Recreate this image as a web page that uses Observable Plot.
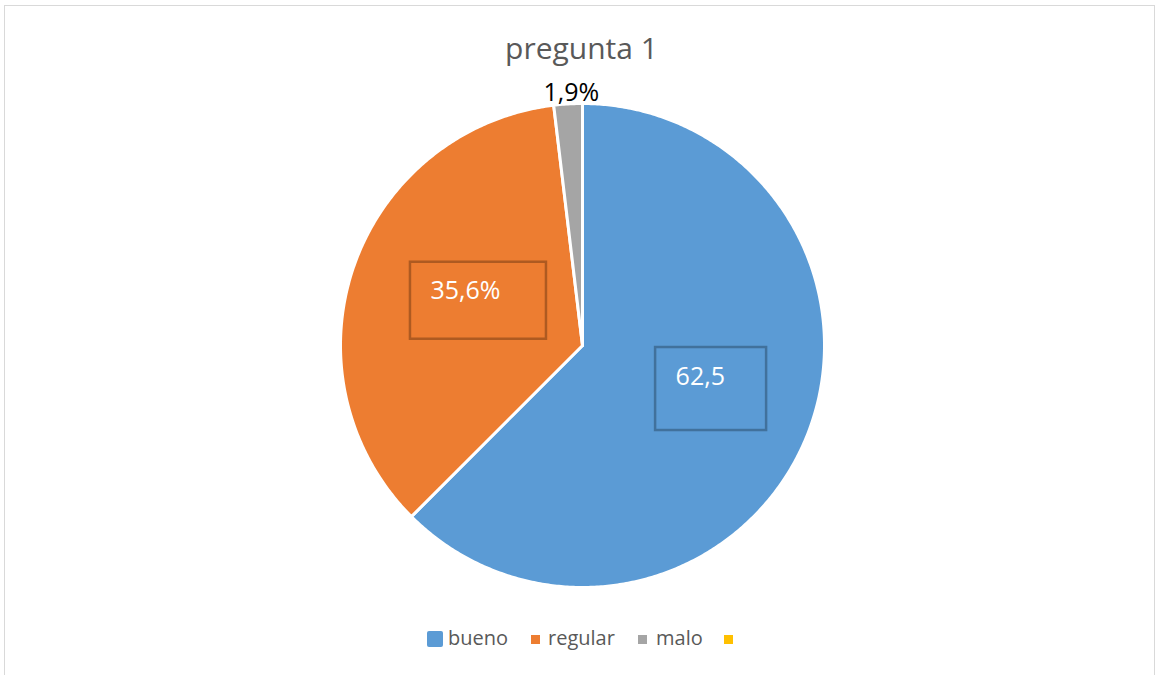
<!DOCTYPE html>
<html>
<head>
<meta charset="utf-8">
<script src="https://cdn.jsdelivr.net/npm/d3@7"></script>
<script src="https://cdn.jsdelivr.net/npm/@observablehq/plot@0.6"></script>
<style>
  html, body { margin: 0; padding: 0; background: #fff; overflow: hidden; }
  #wrap { position: relative; width: 1159px; height: 675px; font-family: "Open Sans", sans-serif; }
  #frame { position: absolute; left: 4px; top: 5px; width: 1151px; height: 700px; border: 1px solid #D9D9D9; box-sizing: border-box; }
  #title { position: absolute; left: 581.5px; top: 33px; transform: translateX(-50%); font-size: 30px; line-height: 30px; color: #595959; white-space: nowrap; }
  #plot { position: absolute; left: 0; top: 0; }
  .lg-sq { position: absolute; }
  .lg-tx { position: absolute; top: 628px; font-size: 20px; line-height: 20px; color: #595959; white-space: nowrap; }
</style>
</head>
<body>
<div id="wrap">
  <div id="frame"></div>
  <div id="plot"></div>
  <div id="title">pregunta 1</div>
  <div id="legend"></div>
</div>
<script>
// ---- data ----
const categories = ["bueno", "regular", "malo", ""];
const values = [62.5, 35.6, 1.9, 0];
const labelTexts = ["62,5", "35,6%", "1,9%", ""];
const colors = ["#5B9BD5", "#ED7D31", "#A5A5A5", "#FFC000"];
const titleText = "pregunta 1";

// ---- build pie geometry from the data ----
const rows = categories.map((c, i) => ({cat: c, value: values[i], label: labelTexts[i]}));
const arcs = d3.pie().sort(null).value(d => d.value)(rows);

const PX = 242; // pixels per data unit (radius)
const slicePts = [];
arcs.forEach(a => {
  if (a.endAngle - a.startAngle <= 0) return;
  const cat = a.data.cat;
  slicePts.push({cat, x: 0, y: 0});
  const n = Math.max(2, Math.ceil((a.endAngle - a.startAngle) / (Math.PI / 360)));
  for (let k = 0; k <= n; k++) {
    const t = a.startAngle + (a.endAngle - a.startAngle) * k / n;
    slicePts.push({cat, x: Math.sin(t), y: Math.cos(t)});
  }
  slicePts.push({cat, x: 0, y: 0});
});

// label placement (styling): radius fraction + angle tweak (deg), box size in px
const placement = {
  "bueno":   {r: 0.561, dA: -3.8, box: [111, 83], inside: true,  stroke: "#41719C"},
  "regular": {r: 0.468, dA: 4.2,  box: [136, 77], inside: true,  stroke: "#AE5A21"},
  "malo":    {r: 1.043, dA: 0.9,  inside: false}
};
const boxes = [], texts = [];
arcs.forEach(a => {
  const p = placement[a.data.cat];
  if (!p) return;
  const mid = (a.startAngle + a.endAngle) / 2 + p.dA * Math.PI / 180;
  const cx = p.r * Math.sin(mid), cy = p.r * Math.cos(mid);
  if (p.inside) {
    const hw = p.box[0] / 2 / PX, hh = p.box[1] / 2 / PX;
    boxes.push({cat: a.data.cat, x1: cx - hw, x2: cx + hw, y1: cy - hh, y2: cy + hh, stroke: p.stroke});
    texts.push({x: cx - hw + 20 / PX, y: cy + hh - 29 / PX, text: a.data.label, fill: "#FFFFFF", anchor: "start"});
  } else {
    texts.push({x: cx, y: cy, text: a.data.label, fill: "#000000", anchor: "middle"});
  }
});

const plot = Plot.plot({
  width: 1159,
  height: 675,
  marginLeft: 340,
  marginRight: 335,
  marginTop: 103,
  marginBottom: 88,
  x: {domain: [-1, 1], axis: null},
  y: {domain: [-1, 1], axis: null},
  color: {domain: categories, range: colors},
  style: {fontFamily: "Open Sans", background: "transparent", overflow: "visible"},
  marks: [
    Plot.line(slicePts, {x: "x", y: "y", z: "cat", fill: "cat", stroke: "#FFFFFF", strokeWidth: 3, strokeLinejoin: "round", curve: "linear"}),
    Plot.rect(boxes, {x1: "x1", x2: "x2", y1: "y1", y2: "y2", fill: "none", stroke: d => d.stroke, strokeWidth: 2.5}),
    Plot.text(texts.filter(d => d.anchor === "start"), {x: "x", y: "y", text: "text", fill: "#FFFFFF", fontSize: 25, textAnchor: "start"}),
    Plot.text(texts.filter(d => d.anchor === "middle"), {x: "x", y: "y", text: "text", fill: "#000000", fontSize: 25, textAnchor: "middle"})
  ]
});
document.getElementById("plot").appendChild(plot);
document.getElementById("title").textContent = titleText;

// ---- legend ----
const legendLayout = [
  {sq: 427, tx: 448, size: 16, top: 631, radius: 2},
  {sq: 531, tx: 548, size: 9, top: 635, radius: 0},
  {sq: 638, tx: 656, size: 9, top: 635, radius: 0},
  {sq: 724, tx: 741, size: 9, top: 635, radius: 0}
];
const lg = document.getElementById("legend");
categories.forEach((c, i) => {
  const L = legendLayout[i];
  const sq = document.createElement("div");
  sq.className = "lg-sq";
  Object.assign(sq.style, {left: L.sq + "px", top: L.top + "px", width: L.size + "px", height: L.size + "px", background: colors[i], borderRadius: L.radius + "px"});
  lg.appendChild(sq);
  if (c) {
    const tx = document.createElement("div");
    tx.className = "lg-tx";
    tx.style.left = L.tx + "px";
    tx.textContent = c;
    lg.appendChild(tx);
  }
});
</script>
</body>
</html>
